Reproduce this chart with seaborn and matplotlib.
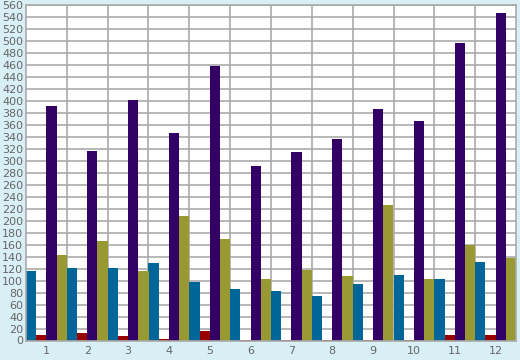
import matplotlib
matplotlib.use("Agg")
import matplotlib.pyplot as plt
import seaborn as sns
import pandas as pd
import numpy as np

categories = [str(i) for i in range(1, 13)]
series_names = ["A", "B", "C", "D"]
blue = [116, 121, 121, 129, 97, 86, 82, 74, 94, 109, 102, 131]
red = [9, 12, 7.5, 2.5, 16, 1, 1, 1, 1, 1, 9, 9]
purple = [391, 316, 402, 347, 459, 292, 314, 336, 386, 367, 497, 547]
olive = [142, 166, 116, 207, 169, 102, 117, 107, 227, 102, 159, 137]
colors = ["#006699", "#990000", "#330066", "#999933"]

rows = []
for name, vals in zip(series_names, [blue, red, purple, olive]):
    for c, v in zip(categories, vals):
        rows.append({"cat": c, "series": name, "value": v})
df = pd.DataFrame(rows)

sns.set_style("white")
bg = "#d9eff6"
fig = plt.figure(figsize=(5.2, 3.6), dpi=100, facecolor=bg)
ax = fig.add_axes([26/520, 19.5/360, 490/520, 335.5/360])
ax.set_facecolor("white")

sns.barplot(data=df, x="cat", y="value", hue="series", order=categories,
            hue_order=series_names, palette=colors, width=1.0, dodge=True,
            saturation=1, errorbar=None, ax=ax, legend=False, linewidth=0)

ax.set_xlim(-0.5, 11.5)
ax.set_ylim(0, 560)
ax.set_yticks(np.arange(0, 561, 20))
ax.set_xticks(range(12))
ax.set_xticklabels(categories)
ax.set_xticks(np.arange(0.5, 11.5, 1), minor=True)
ax.set_axisbelow(True)
ax.yaxis.grid(True, color="#aaaaaa", linewidth=1.2)
ax.xaxis.grid(True, which="minor", color="#aaaaaa", linewidth=1.2)
ax.xaxis.grid(False, which="major")
ax.tick_params(axis="x", which="major", length=0, pad=4, labelsize=8, labelcolor="#666666")
ax.tick_params(axis="x", which="minor", length=4, color="#888888", width=1.2, direction="out")
ax.tick_params(axis="y", length=0, pad=2, labelsize=8, labelcolor="#666666")
for s in ax.spines.values():
    s.set_color("#aaaaaa")
    s.set_linewidth(1.2)
ax.set_xlabel("")
ax.set_ylabel("")
fig.savefig("out.png", dpi=100, facecolor=bg)
